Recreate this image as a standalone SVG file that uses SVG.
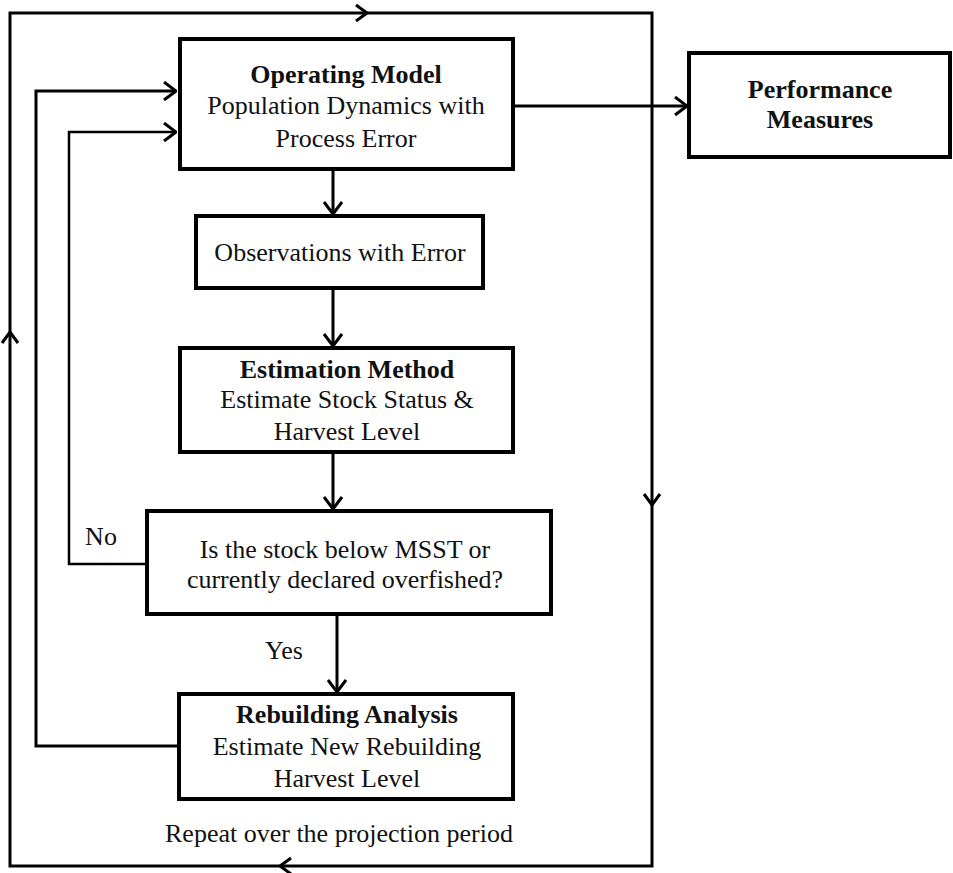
<svg xmlns="http://www.w3.org/2000/svg" width="953" height="873" viewBox="0 0 953 873">
<style>
.box{fill:#fff;stroke:#000;stroke-width:4}
.ln{fill:none;stroke:#000;stroke-width:3}
.thin{fill:none;stroke:#000;stroke-width:2.5}
.chev{fill:none;stroke:#000;stroke-width:3}
text{font-family:"Liberation Serif","Times New Roman",serif;font-size:26px;fill:#111;text-anchor:middle}
.b{font-weight:bold}
</style>
<defs>
<marker id="arr" viewBox="0 0 14 20" refX="13" refY="10" markerWidth="14" markerHeight="20" markerUnits="userSpaceOnUse" orient="auto">
<path d="M1,1 L13,10 L1,19" fill="none" stroke="#000" stroke-width="3"/>
</marker>
</defs>
<rect width="953" height="873" fill="#fff"/>
<g id="connectors">
<path class="ln" d="M10,866 L10,13 L652,13 L652,866 Z"/>
<path class="chev" d="M356,5 L367,13 L356,21"/>
<path class="chev" d="M644,494 L652,505 L660,494"/>
<path class="chev" d="M291,858 L280,866 L291,874"/>
<path class="chev" d="M2,343 L10,332 L18,343"/>
<path class="ln" d="M178,746 L36,746 L36,91 L176,91" marker-end="url(#arr)"/>
<path class="thin" d="M147,564 L69,564 L69,132 L176,132" marker-end="url(#arr)"/>
<path class="ln" d="M513,106 L687,106" marker-end="url(#arr)"/>
<path class="ln" d="M333,169 L333,214" marker-end="url(#arr)"/>
<path class="ln" d="M333,288 L333,346" marker-end="url(#arr)"/>
<path class="ln" d="M333,452 L333,509" marker-end="url(#arr)"/>
<path class="ln" d="M337,615 L337,692" marker-end="url(#arr)"/>
<text x="101" y="545">No</text>
<text x="284" y="659">Yes</text>
<text x="339" y="842">Repeat over the projection period</text>
</g>
<g id="operating-model">
<rect class="box" x="180" y="39" width="333" height="130"/>
<text class="b" x="346" y="83">Operating Model</text>
<text x="346" y="114">Population Dynamics with</text>
<text x="346" y="147">Process Error</text>
</g>
<g id="performance-measures">
<rect class="box" x="689" y="53" width="261" height="104"/>
<text class="b" x="820" y="98">Performance</text>
<text class="b" x="820" y="128">Measures</text>
</g>
<g id="observations">
<rect class="box" x="196" y="216" width="287" height="72"/>
<text x="340" y="261">Observations with Error</text>
</g>
<g id="estimation-method">
<rect class="box" x="180" y="348" width="333" height="104"/>
<text class="b" x="347" y="378">Estimation Method</text>
<text x="347" y="408">Estimate Stock Status &amp;</text>
<text x="347" y="440">Harvest Level</text>
</g>
<g id="decision">
<rect class="box" x="147" y="511" width="404" height="103"/>
<text x="345" y="558">Is the stock below MSST or</text>
<text x="345" y="588">currently declared overfished?</text>
</g>
<g id="rebuilding-analysis">
<rect class="box" x="179" y="694" width="334" height="105"/>
<text class="b" x="347" y="723">Rebuilding Analysis</text>
<text x="347" y="755">Estimate New Rebuilding</text>
<text x="347" y="787">Harvest Level</text>
</g>
</svg>
